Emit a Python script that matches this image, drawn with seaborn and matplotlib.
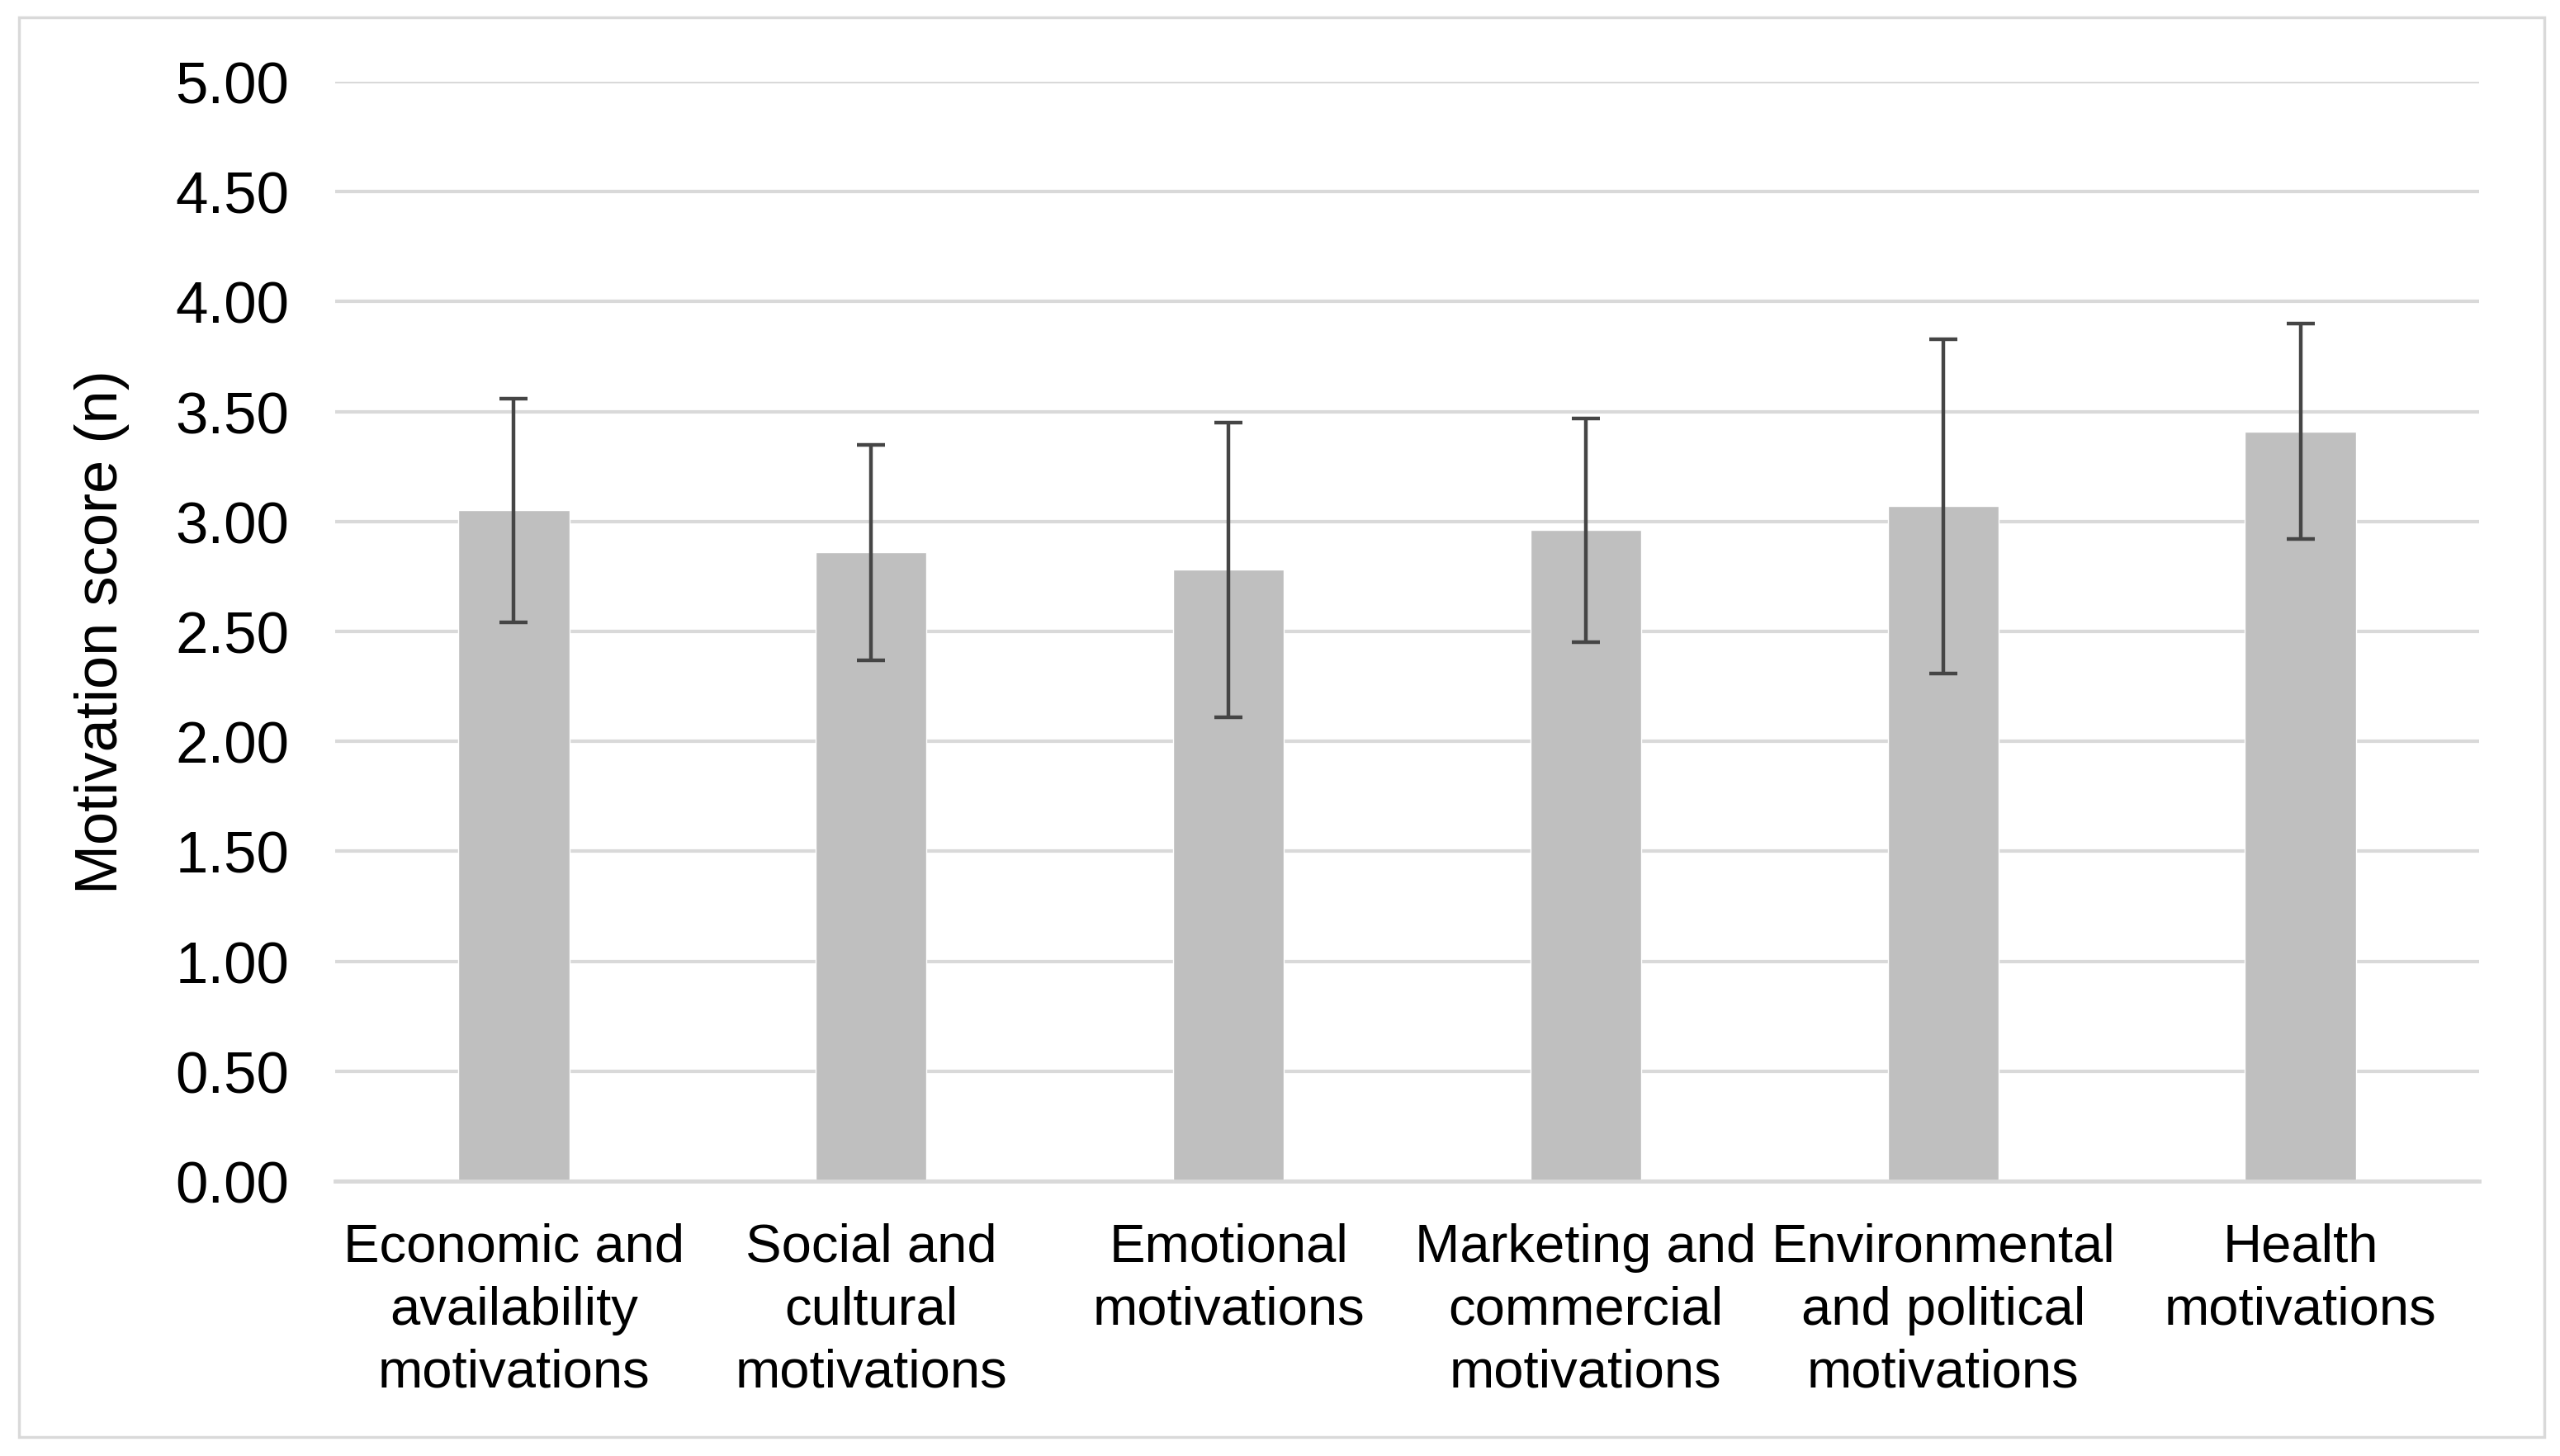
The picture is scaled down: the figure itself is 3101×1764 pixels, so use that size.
import matplotlib
matplotlib.use("Agg")
import matplotlib.pyplot as plt
from matplotlib.patches import Rectangle
import seaborn as sns
import pandas as pd
import numpy as np

categories = [
    "Economic and\navailability\nmotivations",
    "Social and\ncultural\nmotivations",
    "Emotional\nmotivations",
    "Marketing and\ncommercial\nmotivations",
    "Environmental\nand political\nmotivations",
    "Health\nmotivations",
]
mean_scores = [3.05, 2.86, 2.78, 2.96, 3.07, 3.41]
sd_scores = [0.51, 0.49, 0.67, 0.51, 0.76, 0.49]
y_ticks = [0.0, 0.5, 1.0, 1.5, 2.0, 2.5, 3.0, 3.5, 4.0, 4.5, 5.0]

df = pd.DataFrame({"category": categories, "score": mean_scores, "sd": sd_scores})

sns.set_style("white")
plt.rcParams["font.family"] = ["Liberation Sans", "DejaVu Sans"]
plt.rcParams["text.color"] = "black"
plt.rcParams["xtick.color"] = "black"
plt.rcParams["ytick.color"] = "black"
plt.rcParams["axes.labelcolor"] = "black"

W, H = 3101, 1765
fig = plt.figure(figsize=(W / 100, H / 100), dpi=100)
fig.patch.set_facecolor("white")

# outer chart-area frame
fig.patches.append(Rectangle((23 / W, 1 - 1742 / H), (3082 - 23) / W, (1742 - 22) / H,
                             transform=fig.transFigure, fill=False,
                             edgecolor="#D9D9D9", linewidth=2.5))

ax = fig.add_axes([406 / W, 1 - 1432 / H, (3003 - 406) / W, (1432 - 100) / H])

sns.barplot(data=df, x="category", y="score", color="#BFBFBF", width=0.31,
            errorbar=None, saturation=1, ax=ax, zorder=2)
ax.errorbar(np.arange(len(categories)), df["score"], yerr=df["sd"], fmt="none",
            ecolor="#454545", elinewidth=3.2, capsize=12, capthick=3.2, zorder=3)

ax.set_xlim(-0.5, len(categories) - 0.5)
ax.set_ylim(0, 5)
ax.set_yticks(y_ticks)
ax.set_yticklabels([f"{v:.2f}" for v in y_ticks])
ax.yaxis.grid(True, color="#D9D9D9", linewidth=3)
ax.set_axisbelow(True)
for side in ["top", "right", "left"]:
    ax.spines[side].set_visible(False)
ax.spines["bottom"].set_color("#D9D9D9")
ax.spines["bottom"].set_linewidth(3.5)
ax.tick_params(axis="both", length=0)
ax.tick_params(axis="y", labelsize=51, pad=40)
ax.tick_params(axis="x", labelsize=47, pad=36)
for lbl in ax.get_xticklabels():
    lbl.set_linespacing(1.34)
ax.set_xlabel("")
ax.set_ylabel("Motivation score (n)", fontsize=52, labelpad=40)

fig.savefig("out.png", dpi=100, facecolor="white")
